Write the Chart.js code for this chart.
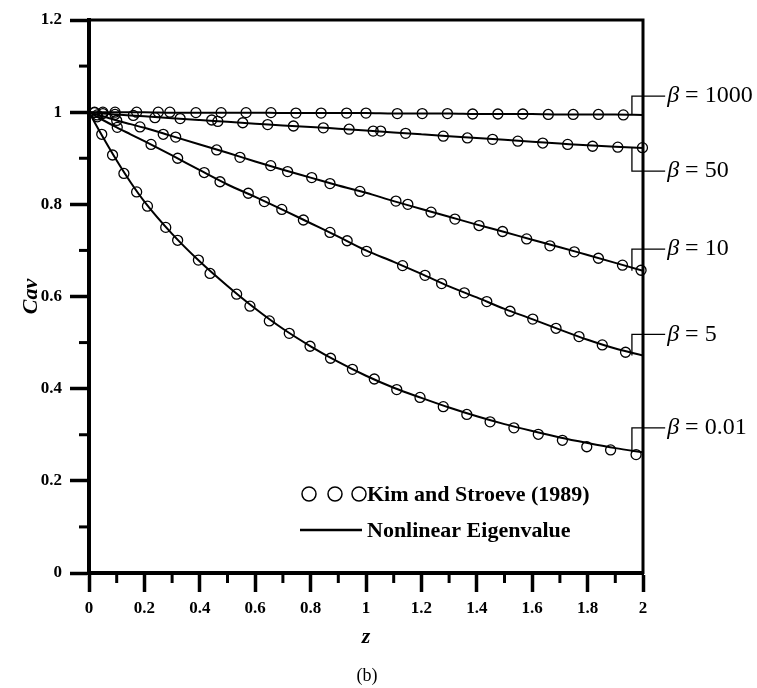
<!DOCTYPE html>
<html>
<head>
<meta charset="utf-8">
<script src="https://cdn.jsdelivr.net/npm/chart.js@4.4.1/dist/chart.umd.min.js"></script>
<style>
  body { margin: 0; background: #fff; }
  #wrap { width: 757px; height: 688px; }
</style>
</head>
<body>
<div id="wrap"><canvas id="grafico" width="757" height="688"></canvas></div>
<script>
// Dados
const zLine = [0, 0.02, 0.05, 0.1, 0.15, 0.2, 0.3, 0.4, 0.5, 0.6, 0.7, 0.8, 0.9, 1.0, 1.1, 1.2, 1.3, 1.4, 1.5, 1.6, 1.7, 1.8, 1.9, 2.0];
const lineBeta1000 = [1.0, 1.0, 1.0, 1.0, 1.0, 1.0, 0.999, 0.999, 0.999, 0.999, 0.998, 0.998, 0.998, 0.998, 0.997, 0.997, 0.997, 0.996, 0.996, 0.996, 0.995, 0.995, 0.995, 0.994];
const lineBeta50 = [1.0, 0.999, 0.997, 0.995, 0.993, 0.991, 0.987, 0.983, 0.979, 0.975, 0.971, 0.968, 0.964, 0.960, 0.956, 0.952, 0.948, 0.944, 0.940, 0.936, 0.932, 0.928, 0.925, 0.922];
const lineBeta10 = [1.0, 0.996, 0.991, 0.982, 0.974, 0.966, 0.948, 0.930, 0.912, 0.893, 0.875, 0.858, 0.841, 0.825, 0.807, 0.790, 0.773, 0.756, 0.740, 0.723, 0.707, 0.690, 0.673, 0.656];
const lineBeta5 = [1.0, 0.993, 0.983, 0.967, 0.952, 0.937, 0.906, 0.874, 0.843, 0.816, 0.788, 0.759, 0.730, 0.700, 0.675, 0.649, 0.622, 0.598, 0.573, 0.551, 0.528, 0.506, 0.487, 0.472];
const lineBeta001 = [1.0, 0.978, 0.946, 0.895, 0.848, 0.806, 0.736, 0.676, 0.623, 0.574, 0.530, 0.492, 0.458, 0.428, 0.402, 0.380, 0.359, 0.340, 0.323, 0.308, 0.294, 0.282, 0.271, 0.262];

// Kim and Stroeve (1989)
const kimZ1000 = [0.02, 0.05, 0.094, 0.172, 0.25, 0.292, 0.386, 0.477, 0.567, 0.657, 0.747, 0.838, 0.93, 1.0, 1.113, 1.203, 1.294, 1.385, 1.476, 1.566, 1.658, 1.748, 1.839, 1.929];
const kimC1000 = [1.0, 1.0, 1.0, 1.0, 1.0, 1.0, 0.999, 0.999, 0.999, 0.999, 0.998, 0.998, 0.998, 0.998, 0.997, 0.997, 0.997, 0.996, 0.996, 0.996, 0.995, 0.995, 0.995, 0.994];
const kimZ50 = [0.02, 0.05, 0.094, 0.16, 0.238, 0.329, 0.443, 0.465, 0.555, 0.645, 0.738, 0.846, 0.939, 1.026, 1.053, 1.143, 1.279, 1.366, 1.457, 1.548, 1.638, 1.728, 1.818, 1.909, 1.998];
const kimC50 = [0.999, 0.997, 0.995, 0.993, 0.988, 0.986, 0.983, 0.980, 0.977, 0.973, 0.970, 0.966, 0.963, 0.959, 0.959, 0.954, 0.948, 0.944, 0.941, 0.937, 0.933, 0.930, 0.926, 0.924, 0.923];
const kimZ10 = [0.03, 0.1, 0.184, 0.268, 0.313, 0.461, 0.545, 0.656, 0.717, 0.804, 0.870, 0.978, 1.108, 1.151, 1.235, 1.321, 1.408, 1.493, 1.58, 1.664, 1.752, 1.839, 1.926, 1.993];
const kimC10 = [0.994, 0.982, 0.968, 0.952, 0.946, 0.918, 0.902, 0.884, 0.871, 0.858, 0.845, 0.828, 0.807, 0.800, 0.783, 0.768, 0.754, 0.741, 0.725, 0.710, 0.697, 0.683, 0.668, 0.657];
const kimZ5 = [0.03, 0.102, 0.224, 0.320, 0.416, 0.473, 0.575, 0.633, 0.696, 0.774, 0.870, 0.932, 1.002, 1.132, 1.213, 1.273, 1.355, 1.436, 1.520, 1.602, 1.686, 1.769, 1.853, 1.937];
const kimC5 = [0.990, 0.967, 0.930, 0.900, 0.869, 0.849, 0.824, 0.806, 0.789, 0.766, 0.739, 0.721, 0.698, 0.667, 0.646, 0.628, 0.608, 0.589, 0.568, 0.551, 0.531, 0.513, 0.495, 0.479];
const kimZ001 = [0.046, 0.085, 0.126, 0.172, 0.211, 0.277, 0.320, 0.395, 0.437, 0.533, 0.581, 0.651, 0.723, 0.798, 0.872, 0.951, 1.030, 1.111, 1.195, 1.279, 1.364, 1.448, 1.534, 1.622, 1.709, 1.797, 1.883, 1.975];
const kimC001 = [0.952, 0.907, 0.867, 0.827, 0.796, 0.750, 0.722, 0.679, 0.650, 0.605, 0.579, 0.547, 0.520, 0.492, 0.466, 0.442, 0.421, 0.398, 0.381, 0.361, 0.344, 0.328, 0.315, 0.301, 0.288, 0.274, 0.267, 0.257];

const betaNames = ['1000', '50', '10', '5', '0.01'];
const xTickValues = [0, 0.2, 0.4, 0.6, 0.8, 1, 1.2, 1.4, 1.6, 1.8, 2];
const xTickLabels = ['0', '0.2', '0.4', '0.6', '0.8', '1', '1.2', '1.4', '1.6', '1.8', '2'];
const yTickValues = [0, 0.2, 0.4, 0.6, 0.8, 1, 1.2];
const yTickLabels = ['0', '0.2', '0.4', '0.6', '0.8', '1', '1.2'];
const legendLabels = ['Kim and Stroeve (1989)', 'Nonlinear Eigenvalue'];

const SERIF = "'Liberation Serif', 'Times New Roman', serif";
const lineSeries = [lineBeta1000, lineBeta50, lineBeta10, lineBeta5, lineBeta001];
const kimSeries = [[kimZ1000, kimC1000], [kimZ50, kimC50], [kimZ10, kimC10], [kimZ5, kimC5], [kimZ001, kimC001]];

function isMajor(v) {
  return Math.round(v * 10) % 2 === 0;
}

function tickLabel(values, labels) {
  return v => {
    const i = values.findIndex(t => Math.abs(t - v) < 1e-6);
    return i >= 0 ? labels[i] : '';
  };
}

const datasets = [];
lineSeries.forEach((s, i) => {
  datasets.push({
    label: 'beta ' + betaNames[i],
    data: zLine.map((z, k) => ({ x: z, y: s[k] })),
    borderColor: '#000',
    borderWidth: 2,
    pointRadius: 0,
    cubicInterpolationMode: 'monotone',
    fill: false
  });
});
kimSeries.forEach(([zs, cs], i) => {
  datasets.push({
    label: 'Kim ' + betaNames[i],
    data: zs.map((z, k) => ({ x: z, y: cs[k] })),
    showLine: false,
    pointRadius: 5,
    pointBorderWidth: 1.3,
    pointBorderColor: '#000',
    pointBackgroundColor: 'rgba(0,0,0,0)',
    clip: 8
  });
});

// Desenhos extras: moldura, ticks menores, rótulos beta, legenda
const extras = {
  id: 'extras',
  afterDraw(chart) {
    const { ctx, chartArea: a, scales: { x, y } } = chart;
    ctx.save();
    ctx.strokeStyle = '#000';
    ctx.fillStyle = '#000';

    ctx.lineWidth = 3;
    ctx.beginPath();
    ctx.moveTo(a.left, a.top);
    ctx.lineTo(a.right, a.top);
    ctx.lineTo(a.right, a.bottom + 1);
    ctx.stroke();

    ctx.lineWidth = 3;
    x.ticks.forEach(t => {
      if (isMajor(t.value)) return;
      const px = x.getPixelForValue(t.value);
      ctx.beginPath();
      ctx.moveTo(px, a.bottom);
      ctx.lineTo(px, a.bottom + 10);
      ctx.stroke();
    });
    y.ticks.forEach(t => {
      if (isMajor(t.value)) return;
      const py = y.getPixelForValue(t.value);
      ctx.beginPath();
      ctx.moveTo(a.left, py);
      ctx.lineTo(a.left - 10, py);
      ctx.stroke();
    });

    // rótulos beta com colchetes
    const labelAt = [1.035, 0.872, 0.703, 0.518, 0.315];
    const xb = x.getPixelForValue(1.96);
    const xe = x.getPixelForValue(2.08);
    ctx.lineWidth = 1.3;
    ctx.textBaseline = 'middle';
    lineSeries.forEach((s, i) => {
      const yEnd = y.getPixelForValue(s[s.length - 1]);
      const yLab = y.getPixelForValue(labelAt[i]);
      ctx.beginPath();
      ctx.moveTo(xb, yEnd);
      ctx.lineTo(xb, yLab);
      ctx.lineTo(xe, yLab);
      ctx.stroke();
      ctx.textAlign = 'left';
      ctx.font = 'italic 24px ' + SERIF;
      ctx.fillText('β', xe + 2, yLab);
      const w = ctx.measureText('β').width;
      ctx.font = '24px ' + SERIF;
      ctx.fillText(' = ' + betaNames[i], xe + 2 + w, yLab);
    });

    // legenda
    ctx.lineWidth = 1.5;
    [309, 335, 359].forEach(cx => {
      ctx.beginPath();
      ctx.arc(cx, 494, 7, 0, Math.PI * 2);
      ctx.stroke();
    });
    ctx.lineWidth = 2.5;
    ctx.beginPath();
    ctx.moveTo(300, 530);
    ctx.lineTo(362, 530);
    ctx.stroke();
    ctx.font = 'bold 22px ' + SERIF;
    ctx.textAlign = 'left';
    ctx.fillText(legendLabels[0], 367, 495);
    ctx.fillText(legendLabels[1], 367, 531);

    ctx.font = '18px ' + SERIF;
    ctx.textAlign = 'center';
    ctx.fillText('(b)', 367, 676);
    ctx.restore();
  }
};

new Chart(document.getElementById('grafico').getContext('2d'), {
  type: 'line',
  data: { datasets },
  options: {
    responsive: false,
    animation: false,
    layout: { padding: { top: 20, right: 114, left: 0, bottom: 0 } },
    plugins: { legend: { display: false }, tooltip: { enabled: false } },
    scales: {
      x: {
        type: 'linear',
        min: 0,
        max: 2,
        afterFit: s => { s.height = 115; },
        ticks: {
          stepSize: 0.1,
          autoSkip: false,
          maxRotation: 0,
          padding: 6,
          color: '#000',
          font: { family: SERIF, size: 17, weight: 'bold' },
          callback: tickLabel(xTickValues, xTickLabels)
        },
        grid: {
          drawOnChartArea: false,
          drawTicks: true,
          tickLength: 19,
          tickWidth: 3.5,
          tickColor: c => isMajor(c.tick.value) ? '#000' : 'rgba(0,0,0,0)'
        },
        border: { color: '#000', width: 4 },
        title: {
          display: true,
          text: 'z',
          color: '#000',
          font: { family: SERIF, size: 22, weight: 'bold', style: 'italic' },
          padding: { top: 0, bottom: 37 }
        }
      },
      y: {
        type: 'linear',
        min: 0,
        max: 1.2,
        afterFit: s => { s.width = 89; },
        ticks: {
          stepSize: 0.1,
          autoSkip: false,
          padding: 8,
          color: '#000',
          font: { family: SERIF, size: 17, weight: 'bold' },
          callback: tickLabel(yTickValues, yTickLabels)
        },
        grid: {
          drawOnChartArea: false,
          drawTicks: true,
          tickLength: 19,
          tickWidth: 3.5,
          tickColor: c => isMajor(c.tick.value) ? '#000' : 'rgba(0,0,0,0)'
        },
        border: { color: '#000', width: 4 },
        title: {
          display: true,
          text: 'Cav',
          color: '#000',
          font: { family: SERIF, size: 22, weight: 'bold', style: 'italic' },
          padding: { top: 18, bottom: 0 }
        }
      }
    }
  },
  plugins: [extras]
});
</script>
</body>
</html>
